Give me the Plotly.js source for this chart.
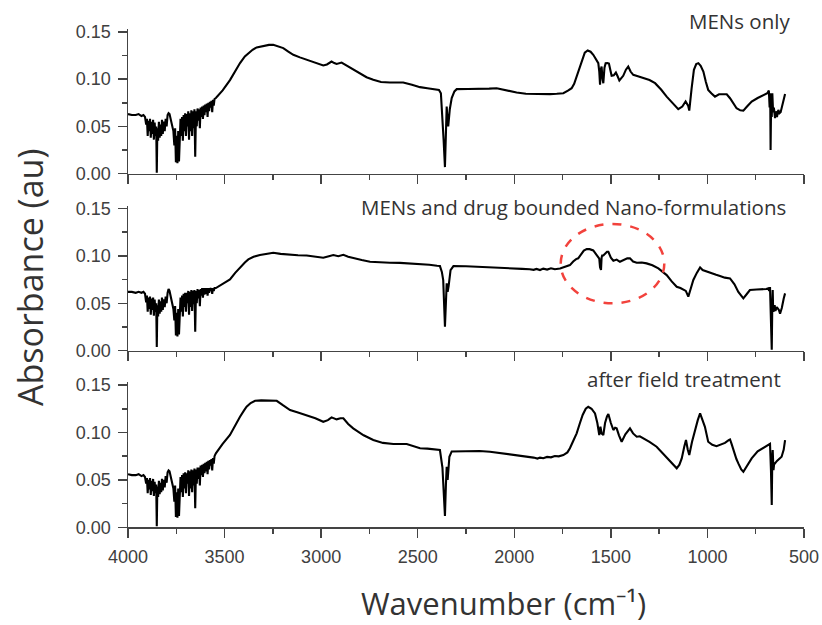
<!DOCTYPE html>
<html>
<head>
<meta charset="utf-8">
<script src="https://cdn.plot.ly/plotly-3.0.1.min.js"></script>
<style>html,body{margin:0;padding:0;background:#fff;}#chart{width:822px;height:625px;}</style>
</head>
<body>
<div id="chart"></div>
<script>
// ---- Data ----
const panelLabels = ["MENs only", "MENs and drug bounded Nano-formulations", "after field treatment"];
const xTicks = [4000, 3500, 3000, 2500, 2000, 1500, 1000, 500];
const yTicks = [0.00, 0.05, 0.10, 0.15];

// noisy water-vapour region, shared wavenumber grid
const wnNoise = [4000,3980,3960,3945,3930,3920,
3912,3906,3902,3898,3894,3890,3886,3882,3878,3874,3870,3866,3862,3858,3854,
3851,3848,3844,3840,3836,3832,3828,3824,3820,
3815,3810,3805,3800,3795,3790,3785,3780,3775,3770,3765,3760,
3756,3752,3748,3744,3740,3736,3732,3728,3724,3720,3716,3712,3708,3704,3700,3696,3692,3688,3684,3680,
3676,3672,3668,3664,3660,3656,3652,3648,3644,3640,3636,3632,3628,3624,3620,3616,3612,3608,3604,3600,
3596,3592,3588,3584,3580,3576,3572,3568,3564,3560,3556,3552,3545];

const absNoise1 = [0.063,0.062,0.062,0.063,0.061,0.062,
0.060,0.052,0.058,0.040,0.056,0.045,0.058,0.038,0.055,0.042,0.057,0.036,0.054,0.040,0.050,
0.001,0.048,0.035,0.055,0.038,0.052,0.040,0.057,0.042,
0.055,0.045,0.058,0.050,0.062,0.064,0.063,0.059,0.056,0.050,0.045,0.030,
0.048,0.012,0.040,0.011,0.045,0.013,0.050,0.058,0.040,0.060,0.035,0.062,0.045,0.064,0.040,0.063,0.050,0.066,0.036,0.064,
0.045,0.067,0.040,0.066,0.048,0.068,0.018,0.066,0.050,0.069,0.056,0.068,0.048,0.070,0.060,0.071,0.058,0.072,0.062,0.073,
0.065,0.074,0.060,0.075,0.066,0.076,0.070,0.077,0.065,0.078,0.072,0.079,0.080];

const absNoise2 = [0.062,0.062,0.061,0.062,0.061,0.062,
0.060,0.051,0.058,0.041,0.056,0.044,0.057,0.038,0.055,0.043,0.056,0.037,0.054,0.041,0.050,
0.004,0.048,0.036,0.054,0.039,0.052,0.041,0.056,0.043,
0.054,0.046,0.057,0.050,0.061,0.065,0.063,0.059,0.055,0.049,0.044,0.032,
0.047,0.016,0.040,0.015,0.044,0.017,0.049,0.056,0.041,0.058,0.036,0.060,0.046,0.061,0.041,0.061,0.050,0.063,0.038,0.062,
0.046,0.064,0.042,0.063,0.049,0.064,0.020,0.063,0.050,0.065,0.055,0.064,0.047,0.065,0.058,0.066,0.056,0.066,0.059,0.066,
0.060,0.066,0.058,0.066,0.061,0.066,0.063,0.066,0.060,0.066,0.063,0.066,0.066];

const absNoise3 = [0.056,0.055,0.055,0.056,0.054,0.055,
0.053,0.046,0.052,0.036,0.050,0.040,0.052,0.034,0.049,0.038,0.051,0.033,0.048,0.036,0.045,
0.001,0.043,0.032,0.049,0.035,0.047,0.037,0.051,0.039,
0.050,0.042,0.054,0.047,0.058,0.060,0.059,0.055,0.051,0.046,0.041,0.027,
0.044,0.011,0.037,0.010,0.041,0.012,0.046,0.053,0.037,0.055,0.032,0.057,0.041,0.058,0.036,0.057,0.046,0.060,0.033,0.059,
0.041,0.061,0.037,0.060,0.044,0.062,0.020,0.061,0.046,0.063,0.051,0.063,0.044,0.065,0.055,0.066,0.053,0.067,0.057,0.068,
0.059,0.069,0.056,0.070,0.061,0.071,0.065,0.072,0.060,0.073,0.067,0.075,0.078];

// MENs only
const wn1 = [3510,3472,3440,3420,3395,3377,3355,3334,3300,3270,
3248,3225,3196,3170,3144,3110,3075,3030,2989,2970,
2946,2932,2920,2894,2868,2835,2799,2765,2730,2690,
2644,2610,2575,2530,2488,2450,2420,2390,2380,2372,
2366,2359,2354,2350,2346,2342,2334,2324,2310,2298,
2240,2178,2130,2091,2040,1988,1940,1884,1815,1780,
1746,1720,1703,1690,1677,1665,1651,1635,1620,1605,
1591,1575,1565,1560,1556,1552,1548,1543,1539,1533,
1527,1518,1510,1503,1496,1485,1474,1465,1456,1446,
1436,1422,1410,1398,1384,1360,1332,1300,1271,1240,
1211,1180,1151,1130,1113,1100,1094,1082,1070,1058,
1047,1035,1021,1008,996,980,961,940,918,900,
883,865,849,830,814,795,771,740,711,690,
682,678,675,673,670,667,664,660,656,650,
645,640,633,627,621,610,598];
const abs1 = [0.088,0.099,0.110,0.117,0.124,0.1275,0.131,0.1335,0.135,0.1362,
0.1363,0.135,0.1328,0.129,0.1257,0.123,0.1204,0.117,0.1144,0.1155,
0.1186,0.117,0.116,0.1175,0.1144,0.110,0.1063,0.102,0.0993,0.097,
0.0964,0.0964,0.0964,0.094,0.0915,0.0904,0.0895,0.0886,0.085,0.060,
0.036,0.007,0.040,0.071,0.058,0.050,0.068,0.080,0.087,0.0894,
0.0895,0.0894,0.090,0.0904,0.088,0.0858,0.0845,0.0841,0.0841,0.0845,
0.0851,0.088,0.0904,0.095,0.1027,0.110,0.1204,0.128,0.1303,0.129,
0.1257,0.121,0.1169,0.108,0.094,0.110,0.1133,0.100,0.0957,0.112,
0.1169,0.117,0.1165,0.110,0.1035,0.104,0.107,0.103,0.0985,0.101,
0.1035,0.110,0.1133,0.108,0.1045,0.103,0.101,0.099,0.0957,0.089,
0.0815,0.075,0.0682,0.071,0.0763,0.072,0.0667,0.090,0.1098,0.116,
0.1169,0.114,0.108,0.097,0.0886,0.085,0.0815,0.084,0.0844,0.084,
0.0798,0.074,0.0692,0.067,0.0667,0.071,0.0763,0.080,0.0833,0.085,
0.088,0.070,0.085,0.025,0.080,0.060,0.0851,0.065,0.070,0.0587,
0.066,0.060,0.0675,0.064,0.065,0.075,0.0844];

// MENs and drug bounded Nano-formulations
const wn2 = [3510,3472,3445,3420,3395,3377,3350,3317,3280,3248,
3210,3161,3120,3075,3030,2989,2960,2937,2911,2885,
2860,2834,2790,2747,2700,2644,2592,2540,2488,2440,
2400,2385,2375,2368,2359,2354,2350,2345,2340,2330,
2315,2250,2180,2120,2074,2000,1960,1920,1900,1885,
1867,1850,1830,1810,1790,1763,1740,1712,1695,1680,
1669,1655,1640,1625,1610,1591,1575,1565,1560,1556,
1551,1548,1545,1539,1530,1520,1513,1500,1487,1470,
1453,1430,1415,1401,1385,1366,1340,1315,1285,1254,
1230,1211,1185,1159,1140,1125,1112,1099,1085,1073,
1055,1038,1025,1013,995,978,955,935,910,883,
860,840,814,795,780,745,711,695,685,680,
676,671,667,664,662,660,658,652,648,641,
630,624,615,605,598];
const abs2 = [0.070,0.075,0.082,0.0878,0.093,0.0962,0.099,0.1008,0.102,0.1032,
0.102,0.1008,0.1005,0.1003,0.099,0.098,0.0995,0.1008,0.0995,0.101,
0.099,0.098,0.0955,0.0937,0.093,0.0927,0.0925,0.092,0.0913,0.0905,
0.0895,0.0892,0.083,0.0745,0.0253,0.050,0.071,0.062,0.068,0.085,
0.0892,0.089,0.0885,0.088,0.0878,0.0868,0.0862,0.0858,0.0852,0.0862,
0.085,0.0865,0.0855,0.0868,0.0858,0.0867,0.088,0.0902,0.094,0.0965,
0.0973,0.101,0.1055,0.1071,0.107,0.1057,0.101,0.099,0.097,0.088,
0.085,0.098,0.1003,0.1003,0.102,0.1043,0.1043,0.098,0.0948,0.096,
0.0937,0.096,0.0973,0.0973,0.094,0.0927,0.093,0.092,0.090,0.0867,
0.083,0.0797,0.073,0.0674,0.066,0.0639,0.063,0.0569,0.066,0.0745,
0.082,0.0878,0.085,0.084,0.083,0.0815,0.080,0.0787,0.077,0.0762,
0.070,0.062,0.0552,0.060,0.0639,0.0645,0.0646,0.065,0.0657,0.063,
0.067,0.040,0.001,0.050,0.064,0.045,0.041,0.048,0.042,0.046,
0.043,0.039,0.045,0.055,0.0604];

// after field treatment
const wn3 = [3510,3472,3440,3420,3400,3386,3365,3342,3310,3282,
3250,3230,3200,3161,3120,3075,3030,2989,2965,2946,
2932,2920,2900,2885,2860,2834,2780,2730,2680,2626,
2557,2520,2488,2450,2410,2385,2372,2359,2354,2350,
2345,2336,2324,2250,2180,2126,2060,1988,1940,1900,
1880,1867,1850,1830,1810,1790,1770,1746,1725,1712,
1695,1677,1660,1646,1630,1617,1600,1582,1570,1560,
1554,1548,1539,1530,1520,1513,1500,1487,1478,1470,
1458,1444,1425,1401,1385,1366,1350,1332,1300,1263,
1240,1211,1185,1159,1145,1133,1120,1111,1102,1094,
1080,1065,1050,1038,1025,1013,996,975,953,930,
909,890,883,875,866,850,840,825,814,795,
771,740,711,695,685,676,671,667,664,662,
660,658,654,650,640,630,616,605,598];
const abs3 = [0.088,0.0973,0.110,0.1166,0.123,0.1271,0.131,0.1334,0.1338,0.1338,
0.1338,0.1334,0.129,0.1236,0.121,0.1184,0.115,0.1113,0.113,0.1159,
0.1145,0.1138,0.115,0.115,0.109,0.1043,0.097,0.092,0.089,0.0878,
0.0878,0.085,0.0833,0.083,0.082,0.0815,0.063,0.0119,0.045,0.0639,
0.0499,0.0744,0.080,0.0805,0.0805,0.0797,0.078,0.0762,0.0745,0.0735,
0.0725,0.0735,0.0728,0.0742,0.0738,0.0752,0.0748,0.0762,0.079,0.0833,
0.091,0.0991,0.110,0.1184,0.125,0.1271,0.125,0.120,0.110,0.0973,
0.106,0.099,0.0973,0.110,0.117,0.1194,0.110,0.1026,0.105,0.1043,
0.097,0.0902,0.098,0.1043,0.099,0.0955,0.096,0.094,0.090,0.085,
0.080,0.0744,0.068,0.0622,0.066,0.0727,0.085,0.092,0.082,0.0762,
0.090,0.1026,0.113,0.1201,0.113,0.106,0.0902,0.087,0.0855,0.087,
0.089,0.092,0.0927,0.088,0.0815,0.072,0.0674,0.061,0.0586,0.065,
0.0727,0.080,0.0833,0.086,0.0867,0.088,0.060,0.0235,0.075,0.0815,
0.070,0.0604,0.068,0.0674,0.070,0.072,0.0744,0.082,0.092];

// ---- Build traces ----
const series = [
  {x: wnNoise.concat(wn1), y: absNoise1.concat(abs1)},
  {x: wnNoise.concat(wn2), y: absNoise2.concat(abs2)},
  {x: wnNoise.concat(wn3), y: absNoise3.concat(abs3)}
];
const axisIds = ['', '2', '3'];
const traces = series.map((s, i) => ({
  type: 'scatter', mode: 'lines', x: s.x, y: s.y,
  xaxis: 'x' + axisIds[i], yaxis: 'y' + axisIds[i],
  line: {color: '#000', width: 2.1}, hoverinfo: 'skip'
}));

const W = 822, H = 625;
const xDom = [128 / W, 804 / W];
const yDoms = [
  [1 - 173.7 / H, 1 - 29 / H],
  [1 - 350.7 / H, 1 - 205.5 / H],
  [1 - 527.3 / H, 1 - 382.2 / H]
];
const axCol = '#444';
const tickFont = {family: 'Liberation Sans, Arial, sans-serif', size: 18, color: '#404040'};
const labelFont = {family: 'Open Sans, sans-serif', size: 20.5, color: '#333'};

const layout = {
  width: W, height: H,
  margin: {l: 0, r: 0, t: 0, b: 0},
  paper_bgcolor: '#fff', plot_bgcolor: '#fff',
  showlegend: false,
  shapes: [{
    type: 'circle', xref: 'paper', yref: 'paper',
    x0: 560.7 / W, x1: 664.3 / W, y0: 1 - 303.3 / H, y1: 1 - 224 / H,
    line: {color: '#f2423c', width: 2.5, dash: 'dash'}
  }],
  annotations: [
    {text: panelLabels[0], xref: 'paper', yref: 'paper', x: 792 / W, y: 1 - 21 / H,
     xanchor: 'right', yanchor: 'middle', showarrow: false, font: labelFont},
    {text: panelLabels[1], xref: 'paper', yref: 'paper', x: 788 / W, y: 1 - 207 / H,
     xanchor: 'right', yanchor: 'middle', showarrow: false, font: labelFont},
    {text: panelLabels[2], xref: 'paper', yref: 'paper', x: 783 / W, y: 1 - 379 / H,
     xanchor: 'right', yanchor: 'middle', showarrow: false, font: labelFont},
    {text: 'Absorbance (au)', xref: 'paper', yref: 'paper', x: 30 / W, y: 1 - 278 / H,
     xanchor: 'center', yanchor: 'middle', textangle: -90, showarrow: false,
     font: {family: 'Open Sans, sans-serif', size: 34, color: '#333'}},
    {text: 'Wavenumber (cm\u207B\u00B9)', xref: 'paper', yref: 'paper', x: 503 / W, y: 1 - 603 / H,
     xanchor: 'center', yanchor: 'middle', showarrow: false,
     font: {family: 'Open Sans, sans-serif', size: 31, color: '#333'}}
  ]
};

axisIds.forEach((id, i) => {
  layout['xaxis' + id] = {
    domain: xDom, range: [xTicks[0], xTicks[xTicks.length - 1]], anchor: 'y' + id,
    tickvals: xTicks, ticktext: xTicks.map(String),
    showline: true, linecolor: axCol, linewidth: 1.5,
    ticks: 'outside', ticklen: 9, tickwidth: 1.5, tickcolor: axCol,
    minor: {ticks: 'outside', ticklen: 5, tickwidth: 1.5, tickcolor: axCol, dtick: 250, tick0: 250, showgrid: false},
    showgrid: false, zeroline: false, showticklabels: i === 2,
    tickfont: tickFont, ticklabelstandoff: 4, fixedrange: true
  };
  layout['yaxis' + id] = {
    domain: yDoms[i], range: [0, 0.153], anchor: 'x' + id,
    tickvals: yTicks, ticktext: yTicks.map(v => v.toFixed(2)),
    showline: true, linecolor: axCol, linewidth: 1.5,
    ticks: 'outside', ticklen: 9, tickwidth: 1.5, tickcolor: axCol,
    minor: {ticks: 'outside', ticklen: 5, tickwidth: 1.5, tickcolor: axCol, dtick: 0.025, tick0: 0.025, showgrid: false},
    showgrid: false, zeroline: false,
    tickfont: tickFont, ticklabelstandoff: 3, fixedrange: true
  };
});

Plotly.newPlot('chart', traces, layout, {staticPlot: true, displayModeBar: false});
</script>
</body>
</html>
